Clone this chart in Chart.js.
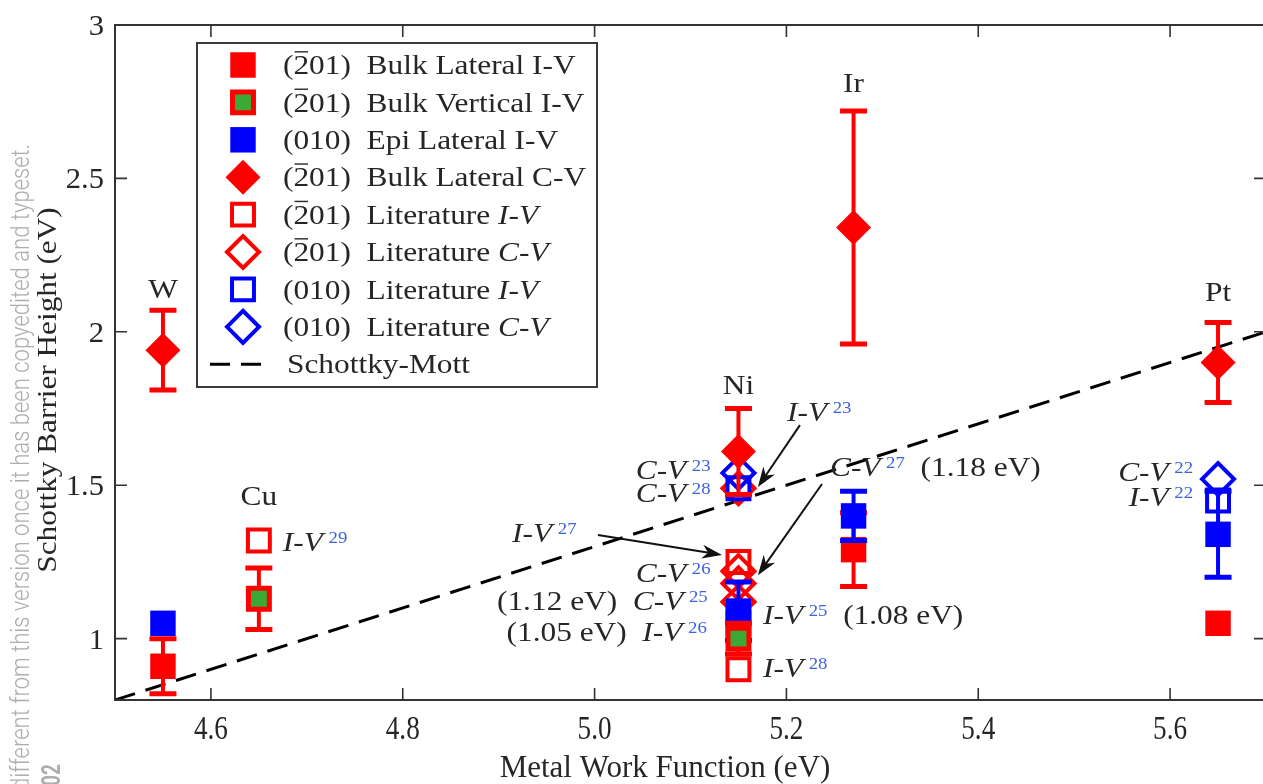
<!DOCTYPE html>
<html>
<head>
<meta charset="utf-8">
<script src="https://cdn.jsdelivr.net/npm/chart.js"></script>
<style>
  html, body { margin: 0; padding: 0; background: #fff; overflow: hidden; }
  canvas { display: block; }
</style>
</head>
<body>
<canvas id="sbh" width="1268" height="784" style="width:1268px;height:784px"></canvas>
<script>
// contact metals and their work functions (eV)
const metals = ['W', 'Cu', 'Ni', 'Ir', 'Pt'];
const workFn = [4.55, 4.65, 5.15, 5.27, 5.65];

// measured barrier heights (eV); *_err is the half-length of the error bar
const bulkLatIV_wf = [4.55, 5.27, 5.65];
const bulkLatIV = [0.91, 1.29, 1.05];
const bulkLatIV_err = [0.09, 0.12, 0];

const bulkVertIV_wf = [4.65, 5.15];
const bulkVertIV = [1.13, 1.00];
const bulkVertIV_err = [0.10, 0.05];

const epiLatIV_wf = [4.55, 5.15, 5.27, 5.65];
const epiLatIV = [1.05, 1.09, 1.40, 1.34];
const epiLatIV_err = [0, 0.095, 0.08, 0.14];

const bulkLatCV_wf = [4.55, 5.15, 5.27, 5.65];
const bulkLatCV = [1.94, 1.61, 2.34, 1.90];
const bulkLatCV_err = [0.13, 0.14, 0.38, 0.13];

// literature values
const litIV201_wf = [4.65, 5.15, 5.15, 5.15, 5.15];
const litIV201 = [1.32, 1.25, 1.08, 1.05, 0.90];
const litCV201_wf = [5.15, 5.15, 5.15, 5.15];
const litCV201 = [1.49, 1.22, 1.18, 1.12];
const litIV010_wf = [5.15, 5.65];
const litIV010 = [1.49, 1.45];
const litCV010_wf = [5.15, 5.65];
const litCV010 = [1.54, 1.52];

// Schottky-Mott limit end points
const smWf = [4.5, 5.7];
const smBarrier = [0.8, 2.0];

const xTicks = [4.6, 4.8, 5.0, 5.2, 5.4, 5.6];
const xTickText = ['4.6', '4.8', '5.0', '5.2', '5.4', '5.6'];
const yTicks = [1, 1.5, 2, 2.5, 3];
const yTickText = ['1', '1.5', '2', '2.5', '3'];

const RED = '#ff0000', BLUE = '#0000ff', GREEN = '#3aa935';
const INK = '#262626', SUP = '#3d63e0', FRAME = '#333';
const SERIF = '"Liberation Serif", "Times New Roman", serif';

const pts = (xs, ys) => xs.map((x, i) => ({ x, y: ys[i] }));

const filledSq = c => ({ shape: 'rect', r: 18, bw: 0, fill: c, stroke: c });
const openSq = c => ({ shape: 'rect', r: 15.5, bw: 4, fill: 'rgba(0,0,0,0)', stroke: c });
const greenSq = { shape: 'rect', r: 14.8, bw: 5, fill: GREEN, stroke: RED };
const filledDia = c => ({ shape: 'rectRot', r: 17.5, bw: 0, fill: c, stroke: c });
const openDia = c => ({ shape: 'rectRot', r: 16, bw: 4, fill: 'rgba(0,0,0,0)', stroke: c });

function markers(key, xs, ys, st, order, errors) {
  return {
    key, data: pts(xs, ys), order, errors,
    showLine: false,
    pointStyle: st.shape,
    pointRadius: st.r, pointHoverRadius: st.r,
    pointBorderWidth: st.bw, pointHoverBorderWidth: st.bw,
    pointBackgroundColor: st.fill, pointHoverBackgroundColor: st.fill,
    pointBorderColor: st.stroke, pointHoverBorderColor: st.stroke,
    backgroundColor: st.fill, borderColor: st.stroke
  };
}

const datasets = [
  {
    key: 'sm', type: 'line', data: pts(smWf, smBarrier), order: 10,
    borderColor: '#000', borderWidth: 3, borderDash: [21, 11],
    pointRadius: 0, pointHoverRadius: 0, fill: false
  },
  markers('litIV201', litIV201_wf, litIV201, openSq(RED), 9),
  markers('litCV201', litCV201_wf, litCV201, openDia(RED), 8),
  markers('litIV010', litIV010_wf, litIV010, openSq(BLUE), 7),
  markers('litCV010', litCV010_wf, litCV010, openDia(BLUE), 6),
  markers('bulkLatIV', bulkLatIV_wf, bulkLatIV, filledSq(RED), 5, bulkLatIV_err),
  markers('epiLatIV', epiLatIV_wf, epiLatIV, filledSq(BLUE), 4, epiLatIV_err),
  markers('bulkVertIV', bulkVertIV_wf, bulkVertIV, greenSq, 3, bulkVertIV_err),
  markers('bulkLatCV', bulkLatCV_wf, bulkLatCV, filledDia(RED), 1, bulkLatCV_err)
];

// text runs: s = 'i' italic, 'sup' superscript reference, bar = overlined digit
const I = { t: 'I', s: 'i' }, V = { t: 'V', s: 'i' }, C = { t: 'C', s: 'i' }, HY = { t: '-' };
const IV = ref => [I, HY, V, { t: ref, s: 'sup' }];
const CV = ref => [C, HY, V, { t: ref, s: 'sup' }];
const r = t => ({ t });
const m201 = [r('('), { t: '2', bar: true }, r('01)  ')];
const m010 = [r('(010)  ')];

const legendRows = [
  { key: 'bulkLatIV', runs: [...m201, r('Bulk Lateral I-V')] },
  { key: 'bulkVertIV', runs: [...m201, r('Bulk Vertical I-V')] },
  { key: 'epiLatIV', runs: [...m010, r('Epi Lateral I-V')] },
  { key: 'bulkLatCV', runs: [...m201, r('Bulk Lateral C-V')] },
  { key: 'litIV201', runs: [...m201, r('Literature '), I, HY, V] },
  { key: 'litCV201', runs: [...m201, r('Literature '), C, HY, V] },
  { key: 'litIV010', runs: [...m010, r('Literature '), I, HY, V] },
  { key: 'litCV010', runs: [...m010, r('Literature '), C, HY, V] },
  { key: 'sm', runs: [r('Schottky-Mott')] }
];

// metal name placed above each group
const metalLabelY = [2.14, 1.465, 1.827, 2.811, 2.13];

// reference labels, anchored in data units
const notes = [
  { at: [4.675, 1.315], align: 'left', runs: IV('29') },
  { at: [5.121, 1.550], align: 'right', runs: CV('23') },
  { at: [5.121, 1.475], align: 'right', runs: CV('28') },
  { at: [5.2006, 1.739], align: 'left', runs: IV('23') },
  { at: [5.2454, 1.559], align: 'left', runs: [...CV('27'), r('  (1.18 eV)')] },
  { at: [4.914, 1.344], align: 'left', runs: IV('27') },
  { at: [5.121, 1.214], align: 'right', runs: CV('26') },
  { at: [5.118, 1.123], align: 'right', runs: [r('(1.12 eV)  '), ...CV('25')] },
  { at: [5.117, 1.022], align: 'right', runs: [r('(1.05 eV)  '), ...IV('26')] },
  { at: [5.1756, 1.077], align: 'left', runs: [...IV('25'), r('  (1.08 eV)')] },
  { at: [5.1756, 0.904], align: 'left', runs: IV('28') },
  { at: [5.624, 1.543], align: 'right', runs: CV('22') },
  { at: [5.624, 1.462], align: 'right', runs: IV('22') }
];

const arrows = [
  { from: [5.2141, 1.696], to: [5.1703, 1.494] },
  { from: [5.2371, 1.504], to: [5.1703, 1.207] },
  { from: [5.0035, 1.338], to: [5.1328, 1.273] }
];

// draw a sequence of runs; y is the vertical middle of the capitals
function drawRuns(ctx, runs, x, y, size, align, sx) {
  sx = sx || 1.12;
  const supGap = size * 0.2;
  let w = 0;
  const parts = runs.map(run => {
    const sup = run.s === 'sup';
    const fs = sup ? size * 0.6 : size;
    const font = (run.s === 'i' ? 'italic ' : '') + fs + 'px ' + SERIF;
    ctx.font = font;
    const tw = ctx.measureText(run.t).width * sx;
    const p = { run, font, x0: w + (sup ? supGap : 0), tw };
    w += tw + (sup ? supGap : 0);
    return p;
  });
  const left = align === 'right' ? x - w : align === 'center' ? x - w / 2 : x;
  const base = y + size * 0.33;
  parts.forEach(p => {
    const sup = p.run.s === 'sup';
    ctx.save();
    ctx.font = p.font;
    ctx.fillStyle = sup ? SUP : INK;
    ctx.textAlign = 'left';
    ctx.textBaseline = 'alphabetic';
    ctx.translate(left + p.x0, sup ? base - size * 0.3 : base);
    ctx.scale(sx, 1);
    ctx.fillText(p.run.t, 0, 0);
    if (p.run.bar) {
      ctx.strokeStyle = INK;
      ctx.lineWidth = 1.4;
      ctx.beginPath();
      ctx.moveTo(1, -size * 0.8);
      ctx.lineTo(p.tw / sx - 1, -size * 0.8);
      ctx.stroke();
    }
    ctx.restore();
  });
  return w;
}

// plain text squeezed or stretched to a given width
function fitText(ctx, text, x, y, width, font, color, align) {
  ctx.save();
  ctx.font = font;
  ctx.fillStyle = color;
  ctx.textBaseline = 'middle';
  ctx.textAlign = 'left';
  const k = width / ctx.measureText(text).width;
  const left = align === 'center' ? x - width / 2 : align === 'right' ? x - width : x;
  ctx.translate(left, y);
  ctx.scale(k, 1);
  ctx.fillText(text, 0, 0);
  ctx.restore();
}

function drawMark(ctx, ds, x, y) {
  const rad = ds.pointRadius;
  ctx.beginPath();
  if (ds.pointStyle === 'rect') {
    const s = Math.SQRT1_2 * rad;
    ctx.rect(x - s, y - s, 2 * s, 2 * s);
  } else {
    ctx.moveTo(x - rad, y);
    ctx.lineTo(x, y - rad);
    ctx.lineTo(x + rad, y);
    ctx.lineTo(x, y + rad);
    ctx.closePath();
  }
  ctx.fillStyle = ds.pointBackgroundColor;
  ctx.fill();
  if (ds.pointBorderWidth > 0) {
    ctx.lineWidth = ds.pointBorderWidth;
    ctx.strokeStyle = ds.pointBorderColor;
    ctx.stroke();
  }
}

const errorBars = {
  id: 'errorBars',
  beforeDatasetDraw(chart, args) {
    const ds = chart.data.datasets[args.index];
    if (!ds.errors) return;
    const { ctx } = chart;
    const xs = chart.scales.x, ys = chart.scales.y;
    ctx.save();
    ctx.strokeStyle = ds.pointBorderColor;
    ds.data.forEach((p, i) => {
      const e = ds.errors[i];
      if (!e) return;
      const px = xs.getPixelForValue(p.x);
      const top = ys.getPixelForValue(p.y + e);
      const bot = ys.getPixelForValue(p.y - e);
      ctx.lineWidth = 4;
      ctx.beginPath();
      ctx.moveTo(px, top);
      ctx.lineTo(px, bot);
      ctx.stroke();
      ctx.lineWidth = 5;
      ctx.beginPath();
      ctx.moveTo(px - 13.5, top); ctx.lineTo(px + 13.5, top);
      ctx.moveTo(px - 13.5, bot); ctx.lineTo(px + 13.5, bot);
      ctx.stroke();
    });
    ctx.restore();
  }
};

const decorations = {
  id: 'decorations',
  beforeDraw(chart) {
    const { ctx } = chart;
    // archive stamp along the left edge
    ctx.save();
    ctx.translate(22, 790);
    ctx.rotate(-Math.PI / 2);
    fitText(ctx, 'different from this version once it has been copyedited and typeset.',
      0, 0, 646, '300 26px Roboto', '#adadad', 'left');
    ctx.restore();
    ctx.save();
    ctx.translate(53, 786);
    ctx.rotate(-Math.PI / 2);
    fitText(ctx, '02', 0, 0, 22, 'bold 26px Roboto', '#adadad', 'left');
    ctx.restore();
  },
  afterDraw(chart) {
    const { ctx, chartArea: a } = chart;
    const xs = chart.scales.x, ys = chart.scales.y;
    const X = v => xs.getPixelForValue(v), Y = v => ys.getPixelForValue(v);

    // frame with inward ticks on all four sides
    ctx.save();
    ctx.strokeStyle = FRAME;
    ctx.lineWidth = 1.6;
    ctx.beginPath();
    xTicks.forEach(v => {
      const px = X(v);
      ctx.moveTo(px, a.bottom); ctx.lineTo(px, a.bottom - 12);
      ctx.moveTo(px, a.top); ctx.lineTo(px, a.top + 12);
    });
    yTicks.forEach(v => {
      const py = Y(v);
      ctx.moveTo(a.left, py); ctx.lineTo(a.left + 12, py);
      ctx.moveTo(a.right, py); ctx.lineTo(a.right - 12, py);
    });
    ctx.stroke();
    ctx.lineWidth = 2;
    ctx.strokeRect(a.left, a.top, a.right - a.left, a.bottom - a.top);
    ctx.restore();

    // tick labels
    yTicks.forEach((v, i) => drawRuns(ctx, [r(yTickText[i])], a.left - 11, Y(v), 30, 'right', 1.02));
    xTicks.forEach((v, i) => drawRuns(ctx, [r(xTickText[i])], X(v), 728, 34, 'center', 0.8));

    // axis titles
    drawRuns(ctx, [r('Metal Work Function (eV)')], 665, 767, 31, 'center', 1.0);
    ctx.save();
    ctx.translate(47, 390);
    ctx.rotate(-Math.PI / 2);
    drawRuns(ctx, [r('Schottky Barrier Height (eV)')], 0, 0, 28, 'center', 1.116);
    ctx.restore();

    // metal names
    metals.forEach((m, i) => drawRuns(ctx, [r(m)], X(workFn[i]), Y(metalLabelY[i]), 28, 'center'));

    // literature references
    notes.forEach(n => drawRuns(ctx, n.runs, X(n.at[0]), Y(n.at[1]), 28, n.align));

    // arrows
    ctx.save();
    ctx.strokeStyle = '#111';
    ctx.fillStyle = '#111';
    ctx.lineWidth = 2;
    arrows.forEach(ar => {
      const x0 = X(ar.from[0]), y0 = Y(ar.from[1]);
      const x1 = X(ar.to[0]), y1 = Y(ar.to[1]);
      const ang = Math.atan2(y1 - y0, x1 - x0);
      const len = 20, half = 7;
      const bx = x1 - len * Math.cos(ang), by = y1 - len * Math.sin(ang);
      ctx.beginPath();
      ctx.moveTo(x0, y0);
      ctx.lineTo(x1 - 10 * Math.cos(ang), y1 - 10 * Math.sin(ang));
      ctx.stroke();
      const nx = -Math.sin(ang), ny = Math.cos(ang);
      ctx.beginPath();
      ctx.moveTo(x1, y1);
      ctx.lineTo(bx + nx * half, by + ny * half);
      ctx.lineTo(x1 - 14 * Math.cos(ang), y1 - 14 * Math.sin(ang));
      ctx.lineTo(bx - nx * half, by - ny * half);
      ctx.closePath();
      ctx.fill();
    });
    ctx.restore();

    // legend box
    const L = { left: 197, top: 43, width: 400, height: 344 };
    ctx.save();
    ctx.fillStyle = '#fff';
    ctx.fillRect(L.left, L.top, L.width, L.height);
    ctx.strokeStyle = '#3a3a3a';
    ctx.lineWidth = 2;
    ctx.strokeRect(L.left, L.top, L.width, L.height);
    legendRows.forEach((row, i) => {
      const ds = chart.data.datasets.find(d => d.key === row.key);
      const cy = L.top + 22 + i * 37.4;
      if (row.key === 'sm') {
        ctx.save();
        ctx.strokeStyle = ds.borderColor;
        ctx.lineWidth = ds.borderWidth;
        ctx.setLineDash([20, 11]);
        ctx.beginPath();
        ctx.moveTo(210, cy);
        ctx.lineTo(272, cy);
        ctx.stroke();
        ctx.restore();
        drawRuns(ctx, row.runs, 287, cy, 28, 'left');
      } else {
        drawMark(ctx, ds, 243, cy);
        drawRuns(ctx, row.runs, 283, cy, 28, 'left');
      }
    });
    ctx.restore();
  }
};

new Chart(document.getElementById('sbh'), {
  type: 'scatter',
  data: { datasets },
  options: {
    responsive: false,
    animation: false,
    events: [],
    layout: { autoPadding: false, padding: { top: 25, right: 2, left: 0, bottom: 0 } },
    plugins: { legend: { display: false }, tooltip: { enabled: false } },
    scales: {
      x: {
        type: 'linear', min: 4.5, max: 5.7,
        grid: { display: false }, border: { display: false },
        ticks: { display: false },
        afterBuildTicks: s => { s.ticks = xTicks.map(v => ({ value: v })); },
        afterFit: s => { s.height = 84; }
      },
      y: {
        type: 'linear', min: 0.8, max: 3,
        grid: { display: false }, border: { display: false },
        ticks: { display: false },
        afterBuildTicks: s => { s.ticks = yTicks.map(v => ({ value: v })); },
        afterFit: s => { s.width = 115; }
      }
    }
  },
  plugins: [errorBars, decorations]
});
</script>
</body>
</html>
